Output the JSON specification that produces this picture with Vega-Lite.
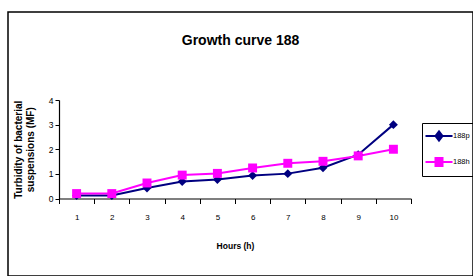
{
  "$schema": "https://vega.github.io/schema/vega-lite/v6.json",
  "width": 465,
  "height": 264,
  "autosize": {"type": "none"},
  "padding": {"left": 8, "top": 12, "right": 0, "bottom": 0},
  "background": "white",
  "config": {
    "view": {"stroke": "black", "strokeWidth": 1.5},
    "font": "'Liberation Sans', sans-serif"
  },
  "title": {
    "text": "Growth curve 188",
    "font": "'Liberation Sans', sans-serif",
    "fontSize": 14,
    "fontWeight": "bold",
    "color": "black",
    "anchor": "middle",
    "frame": "group",
    "baseline": "alphabetic",
    "offset": 0,
    "dy": 47
  },
  "data": {
    "values": [
      {"hour": 1, "series": "188p", "value": 0.12},
      {"hour": 2, "series": "188p", "value": 0.12},
      {"hour": 3, "series": "188p", "value": 0.43},
      {"hour": 4, "series": "188p", "value": 0.69},
      {"hour": 5, "series": "188p", "value": 0.77},
      {"hour": 6, "series": "188p", "value": 0.93},
      {"hour": 7, "series": "188p", "value": 1.01},
      {"hour": 8, "series": "188p", "value": 1.25},
      {"hour": 9, "series": "188p", "value": 1.78},
      {"hour": 10, "series": "188p", "value": 3.0},
      {"hour": 1, "series": "188h", "value": 0.2},
      {"hour": 2, "series": "188h", "value": 0.2},
      {"hour": 3, "series": "188h", "value": 0.63},
      {"hour": 4, "series": "188h", "value": 0.95},
      {"hour": 5, "series": "188h", "value": 1.02},
      {"hour": 6, "series": "188h", "value": 1.24},
      {"hour": 7, "series": "188h", "value": 1.43},
      {"hour": 8, "series": "188h", "value": 1.51},
      {"hour": 9, "series": "188h", "value": 1.73},
      {"hour": 10, "series": "188h", "value": 2.0}
    ]
  },
  "encoding": {
    "x": {
      "field": "hour",
      "type": "ordinal",
      "scale": {"range": [51, 403], "paddingInner": 0, "paddingOuter": 0},
      "axis": {
        "title": "Hours (h)",
        "titleFont": "'Liberation Sans', sans-serif",
        "titleFontSize": 8.5,
        "titleFontWeight": "bold",
        "titleColor": "black",
        "titlePadding": 20,
        "labelAngle": 0,
        "labelFontSize": 8,
        "labelColor": "black",
        "labelPadding": 10,
        "tickBand": "extent",
        "tickSize": 5,
        "tickColor": "black",
        "domainColor": "black",
        "domainWidth": 1.2,
        "offset": -77.5,
        "grid": false
      }
    },
    "y": {
      "field": "value",
      "type": "quantitative",
      "scale": {"domain": [0, 4], "range": [186.5, 88], "nice": false, "zero": true},
      "axis": {
        "title": ["Turbidity of bacterial", "suspensions (MF)"],
        "titleFont": "'Liberation Sans', sans-serif",
        "titleFontSize": 10,
        "titleFontWeight": "bold",
        "titleColor": "black",
        "titleLineHeight": 12,
        "titlePadding": 13,
        "values": [0, 1, 2, 3, 4],
        "labelFontSize": 8.5,
        "labelColor": "black",
        "labelPadding": 2,
        "tickSize": 4,
        "tickColor": "black",
        "domainColor": "black",
        "domainWidth": 1.2,
        "offset": -51,
        "grid": false
      }
    },
    "color": {
      "field": "series",
      "type": "nominal",
      "sort": ["188p", "188h"],
      "scale": {"domain": ["188p", "188h"], "range": ["#000080", "#FF00FF"]},
      "legend": {
        "title": null,
        "orient": "none",
        "legendX": 414,
        "legendY": 111,
        "strokeColor": "black",
        "padding": 5,
        "symbolSize": 196,
        "symbolType": {"expr": "datum.value === '188p' ? 'M-1.93,0H1.93M0,-0.65L0.5,0L0,0.65L-0.5,0Z' : 'M-1.93,0H1.93M-0.5,-0.58H0.5V0.58H-0.5Z'"},
        "symbolStrokeWidth": 2,
        "symbolOffset": 4,
        "labelOffset": 6,
        "rowPadding": 8,
        "labelFontSize": 7.5,
        "labelColor": "black"
      }
    }
  },
  "layer": [
    {
      "mark": {"type": "line", "strokeWidth": 2}
    },
    {
      "transform": [{"filter": "datum.series === '188p'"}],
      "mark": {"type": "point", "filled": true, "opacity": 1, "size": 80, "shape": "diamond"}
    },
    {
      "transform": [{"filter": "datum.series === '188h'"}],
      "mark": {"type": "point", "filled": true, "opacity": 1, "size": 80, "shape": "square"}
    }
  ]
}
